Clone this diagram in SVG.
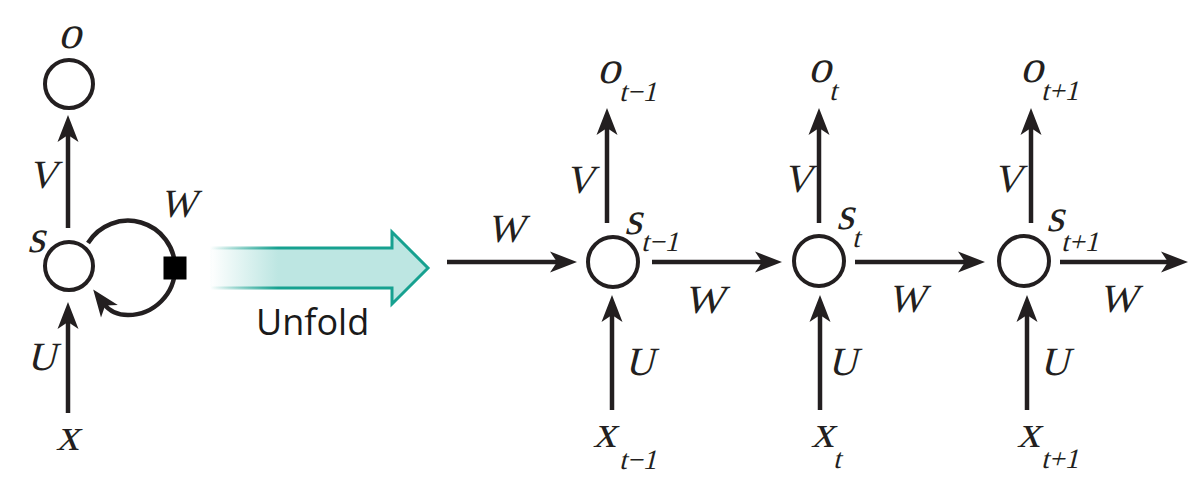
<svg xmlns="http://www.w3.org/2000/svg" width="1200" height="482" viewBox="0 0 1200 482">
<style>
.ln{stroke:#231f20;stroke-width:4.5;fill:none}
.nd{stroke:#231f20;stroke-width:4;fill:#fff}
.t{font-family:'Liberation Serif','Times New Roman',serif;font-style:normal;font-size:40px;fill:#231f20}
.l{font-size:46px}
.sb{font-family:'Liberation Serif','Times New Roman',serif;font-style:normal;font-size:28px;fill:#231f20}
.uf{font-family:'Open Sans','Liberation Sans',sans-serif;font-size:36px;fill:#1a1a1a}
</style>
<defs>
<marker id="ah" markerUnits="userSpaceOnUse" viewBox="-28 -11 30 22" markerWidth="30" markerHeight="22" refX="-18" refY="0" orient="auto">
<path d="M0,0 L-27,-10.5 L-20,0 L-27,10.5 Z" fill="#231f20"/>
</marker>
<linearGradient id="gf" gradientUnits="userSpaceOnUse" x1="210" y1="0" x2="278" y2="0">
<stop offset="0" stop-color="#bde6e2" stop-opacity="0"/>
<stop offset="1" stop-color="#bde6e2"/>
</linearGradient>
<linearGradient id="gs" gradientUnits="userSpaceOnUse" x1="210" y1="0" x2="278" y2="0">
<stop offset="0" stop-color="#17a190" stop-opacity="0"/>
<stop offset="1" stop-color="#17a190"/>
</linearGradient>
</defs>

<g id="connectors">
<line class="ln" x1="68" y1="228" x2="68" y2="133" marker-end="url(#ah)"/>
<line class="ln" x1="68" y1="413" x2="68" y2="320" marker-end="url(#ah)"/>
<path class="ln" d="M88,243 A47,47 0 0 1 175,268 A47,47 0 0 1 128,315 C118,315 110,312 104,304" marker-end="url(#ah)"/>
<rect x="163.5" y="256.5" width="23" height="23" fill="#000"/>

<line class="ln" x1="447" y1="262" x2="559" y2="262" marker-end="url(#ah)"/>
<line class="ln" x1="652" y1="262" x2="764" y2="262" marker-end="url(#ah)"/>
<line class="ln" x1="855" y1="262" x2="967" y2="262" marker-end="url(#ah)"/>
<line class="ln" x1="1060" y1="262" x2="1170" y2="262" marker-end="url(#ah)"/>

<line class="ln" x1="607" y1="223" x2="607" y2="126" marker-end="url(#ah)"/>
<line class="ln" x1="819" y1="223" x2="819" y2="126" marker-end="url(#ah)"/>
<line class="ln" x1="1031" y1="223" x2="1031" y2="126" marker-end="url(#ah)"/>

<line class="ln" x1="612" y1="410" x2="612" y2="313" marker-end="url(#ah)"/>
<line class="ln" x1="820" y1="410" x2="820" y2="313" marker-end="url(#ah)"/>
<line class="ln" x1="1027" y1="410" x2="1027" y2="313" marker-end="url(#ah)"/>

<text class="t" transform="translate(28,188) skewX(-14)">V</text>
<text class="t" transform="translate(27,370) skewX(-14)">U</text>
<text class="t" transform="translate(160,217) skewX(-14)" textLength="36" lengthAdjust="spacingAndGlyphs">W</text>

<text class="t" transform="translate(487,242) skewX(-14)" textLength="37" lengthAdjust="spacingAndGlyphs">W</text>
<text class="t" transform="translate(684,313) skewX(-14)" textLength="40" lengthAdjust="spacingAndGlyphs">W</text>
<text class="t" transform="translate(888,312) skewX(-14)" textLength="37" lengthAdjust="spacingAndGlyphs">W</text>
<text class="t" transform="translate(1099,312) skewX(-14)" textLength="38" lengthAdjust="spacingAndGlyphs">W</text>

<text class="t" transform="translate(565,193) skewX(-14)">V</text>
<text class="t" transform="translate(783,192) skewX(-14)">V</text>
<text class="t" transform="translate(993,192) skewX(-14)">V</text>
<text class="t" transform="translate(625,375) skewX(-14)">U</text>
<text class="t" transform="translate(828,375) skewX(-14)">U</text>
<text class="t" transform="translate(1040,375) skewX(-14)">U</text>
</g>

<g id="unfold">
<polygon points="210,248 392,248 392,232 428,268 392,304 392,288 210,288" fill="url(#gf)" stroke="url(#gs)" stroke-width="3" stroke-linejoin="miter"/>
<text class="uf" x="256" y="335">Unfold</text>
</g>

<g id="node-o">
<circle class="nd" cx="69" cy="84" r="24"/>
<text class="t l" transform="translate(58,48) skewX(-14)">o</text>
</g>
<g id="node-s">
<circle class="nd" cx="69" cy="266" r="24"/>
<text class="t l" transform="translate(27,252) skewX(-14)">s</text>
</g>
<g id="node-x">
<text class="t l" transform="translate(56,450) skewX(-14)">x</text>
</g>

<g id="node-o-t-1">
<text class="t l" transform="translate(597,83) skewX(-14)">o</text><text class="sb" transform="translate(619,101) skewX(-14)">t−1</text>
</g>
<g id="node-o-t">
<text class="t l" transform="translate(808,82) skewX(-14)">o</text><text class="sb" transform="translate(829,100) skewX(-14)">t</text>
</g>
<g id="node-o-t1">
<text class="t l" transform="translate(1020,82) skewX(-14)">o</text><text class="sb" transform="translate(1041,100) skewX(-14)">t+1</text>
</g>

<g id="node-s-t-1">
<circle class="nd" cx="613" cy="262" r="25"/>
<text class="t l" transform="translate(624,234) skewX(-14)">s</text><text class="sb" transform="translate(641,251) skewX(-14)">t−1</text>
</g>
<g id="node-s-t">
<circle class="nd" cx="819" cy="261" r="25"/>
<text class="t l" transform="translate(836,229) skewX(-14)">s</text><text class="sb" transform="translate(852,247) skewX(-14)">t</text>
</g>
<g id="node-s-t1">
<circle class="nd" cx="1024" cy="261" r="25"/>
<text class="t l" transform="translate(1046,231) skewX(-14)">s</text><text class="sb" transform="translate(1061,251) skewX(-14)">t+1</text>
</g>

<g id="node-x-t-1">
<text class="t l" transform="translate(593,447) skewX(-14)">x</text><text class="sb" transform="translate(619,469) skewX(-14)">t−1</text>
</g>
<g id="node-x-t">
<text class="t l" transform="translate(811,447) skewX(-14)">x</text><text class="sb" transform="translate(833,468) skewX(-14)">t</text>
</g>
<g id="node-x-t1">
<text class="t l" transform="translate(1017,447) skewX(-14)">x</text><text class="sb" transform="translate(1041,468) skewX(-14)">t+1</text>
</g>
</svg>
